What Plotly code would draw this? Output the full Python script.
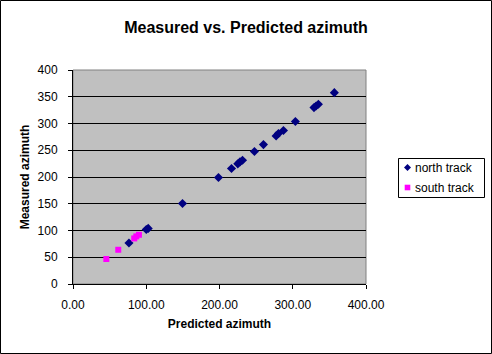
import plotly.graph_objects as go

north_x = [76.4, 100.0, 102.7, 149.5, 198.6, 216.4, 225.0, 228.0, 231.4, 247.7, 260.0, 277.3, 280.5, 287.3, 303.6, 329.0, 331.8, 335.0, 356.8]
north_y = [76.5, 102.0, 103.9, 150.5, 199.0, 215.9, 224.6, 228.3, 231.4, 247.6, 260.6, 276.8, 281.2, 286.8, 303.6, 329.7, 332.8, 336.0, 357.7]
south_x = [45.5, 61.8, 83.6, 86.4, 90.0]
south_y = [46.7, 64.0, 85.2, 89.0, 92.0]
series_names = ["north track", "south track"]
series_colors = ["#000080", "#FF00FF"]

W, H = 492, 354
L, R, T, B = 73, 126, 70, 70
pw, ph = W - L - R, H - T - B

def px(x):
    return (x - L) / pw

def py(y):
    return (T + ph - y) / ph

font = "Liberation Sans, Arial, sans-serif"

fig = go.Figure()
fig.add_trace(go.Scatter(x=north_x, y=north_y, mode="markers", name=series_names[0],
                         marker=dict(symbol="diamond", color=series_colors[0], size=7,
                                     line=dict(width=0))))
fig.add_trace(go.Scatter(x=south_x, y=south_y, mode="markers", name=series_names[1],
                         marker=dict(symbol="square", color=series_colors[1], size=6,
                                     line=dict(width=0))))

fig.update_layout(
    width=W, height=H,
    margin=dict(l=L, r=R, t=T, b=B, pad=0, autoexpand=False),
    paper_bgcolor="white",
    plot_bgcolor="#C0C0C0",
    font=dict(family=font, size=12, color="black"),
    title=dict(text="<b>Measured vs. Predicted azimuth</b>", x=0.5, xanchor="center",
               xref="container", y=1 - 27 / H, yanchor="middle", font=dict(size=16)),
    showlegend=False,
    xaxis=dict(range=[0, 400], tickvals=[0, 100, 200, 300, 400], tickformat=".2f",
               showgrid=False, zeroline=False, showline=True, linecolor="black",
               ticks="outside", ticklen=4, tickcolor="black", ticklabelstandoff=6,
               tickfont=dict(size=12),
               title=dict(text="<b>Predicted azimuth</b>", font=dict(size=12), standoff=8)),
    yaxis=dict(range=[0, 400], tickvals=list(range(0, 401, 50)),
               showgrid=True, gridcolor="black", gridwidth=1, zeroline=False,
               showline=True, linecolor="black",
               ticks="outside", ticklen=4, tickcolor="black", ticklabelstandoff=8,
               tickfont=dict(size=12),
               title=dict(text="<b>Measured azimuth</b>", font=dict(size=12), standoff=5)),
)

# gray plot-area frame (top/right visible)
fig.add_shape(type="rect", xref="paper", yref="paper", x0=0, x1=1, y0=0, y1=1,
              line=dict(color="#808080", width=1), fillcolor="rgba(0,0,0,0)", layer="below")

# legend box
fig.add_shape(type="rect", xref="paper", yref="paper",
              x0=px(398.5), x1=px(484.5), y0=py(197.5), y1=py(158.5),
              line=dict(color="black", width=1), fillcolor="white", layer="above")
# legend symbols
cx, cy1, cy2 = 407.5, 167.5, 187.5
d = 3.5
fig.add_shape(type="path", xref="paper", yref="paper",
              path=f"M {px(cx)},{py(cy1 - d)} L {px(cx + d)},{py(cy1)} L {px(cx)},{py(cy1 + d)} L {px(cx - d)},{py(cy1)} Z",
              line=dict(width=0), fillcolor=series_colors[0], layer="above")
s = 2.8
fig.add_shape(type="rect", xref="paper", yref="paper",
              x0=px(cx - s), x1=px(cx + s), y0=py(cy2 + s), y1=py(cy2 - s),
              line=dict(width=0), fillcolor=series_colors[1], layer="above")
for name, cy in zip(series_names, [cy1, cy2]):
    fig.add_annotation(text=name, xref="paper", yref="paper", x=px(413.5), y=py(cy),
                       xanchor="left", yanchor="middle", showarrow=False,
                       font=dict(size=12), borderpad=0)

# outer chart border
fig.add_shape(type="rect", xref="paper", yref="paper",
              x0=px(0.5), x1=px(W - 0.5), y0=py(H - 0.5), y1=py(0.5),
              line=dict(color="black", width=1), fillcolor="rgba(0,0,0,0)", layer="above")

fig.write_html("out.html")
